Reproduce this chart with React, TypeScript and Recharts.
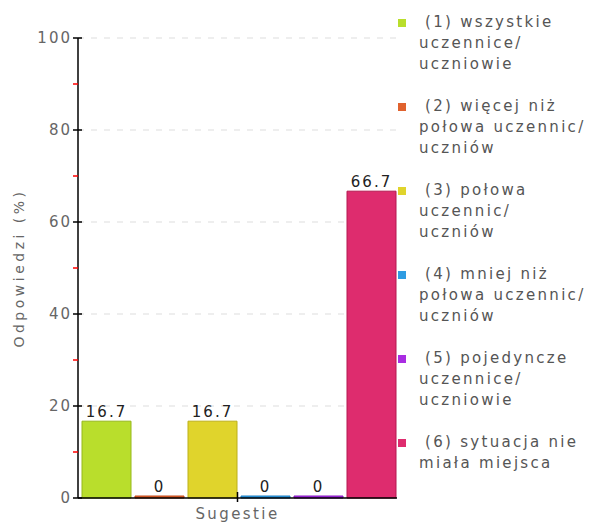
import React from 'react';
import { BarChart, Bar, XAxis, YAxis, CartesianGrid, LabelList } from 'recharts';

const categories: string[] = ['Sugestie'];
const seriesKeys: string[] = ['s1', 's2', 's3', 's4', 's5', 's6'];
const seriesLabels: string[] = [
  '(1) wszystkie\nuczennice/\nuczniowie',
  '(2) więcej niż\npołowa uczennic/\nuczniów',
  '(3) połowa\nuczennic/\nuczniów',
  '(4) mniej niż\npołowa uczennic/\nuczniów',
  '(5) pojedyncze\nuczennice/\nuczniowie',
  '(6) sytuacja nie\nmiała miejsca',
];
const seriesValues: number[] = [16.7, 0, 16.7, 0, 0, 66.7];
const fills: string[] = ['#b9de2c', '#e0622e', '#e0d42c', '#2e9ce2', '#a92ce2', '#de2c6e'];
const strokes: string[] = ['#96b81a', '#c04818', '#bcb018', '#1a7cc0', '#8418c0', '#b41850'];
const yMajorTicks: number[] = [0, 20, 40, 60, 80, 100];
const yMinorTicks: number[] = [10, 30, 50, 70, 90];

const data = categories.map((name) => {
  const row: Record<string, string | number> = { name };
  seriesKeys.forEach((k, i) => {
    row[k] = seriesValues[i];
  });
  return row;
});

const font = '"DejaVu Sans", Verdana, sans-serif';

const YTick = (props: any) => {
  const { x, y, payload } = props;
  const v = payload.value;
  if (yMinorTicks.includes(v)) {
    return <line x1={x - 5} x2={x} y1={y} y2={y} stroke="#ff0000" strokeWidth={1.5} />;
  }
  return (
    <g>
      <line x1={x - 5} x2={x + 4} y1={y} y2={y} stroke="#000" strokeWidth={1.5} />
      <text
        x={x - 6}
        y={y}
        dy="0.35em"
        textAnchor="end"
        fill="#666"
        fontSize={15}
        fontFamily={font}
        letterSpacing={2}
      >
        {v}
      </text>
    </g>
  );
};

const XTick = (props: any) => {
  const { x, y, payload } = props;
  return (
    <g>
      <line x1={x} x2={x} y1={y - 6} y2={y + 4} stroke="#000" strokeWidth={1.5} />
      <text
        x={x}
        y={y + 10}
        dy="0.71em"
        textAnchor="middle"
        fill="#666"
        fontSize={15}
        fontFamily={font}
        letterSpacing={2.4}
      >
        {payload.value}
      </text>
    </g>
  );
};

const App: React.FC = () => {
  return (
    <div style={{ position: 'absolute', left: 0, top: 0, width: 592, height: 524, background: '#fff' }}>
      <BarChart
        width={592}
        height={524}
        data={data}
        margin={{ top: 38, right: 195, bottom: 6, left: 18 }}
        barCategoryGap={4}
        barGap={4}
      >
        <CartesianGrid
          vertical={false}
          horizontalValues={[20, 40, 60, 80, 100]}
          stroke="#dddddd"
          strokeDasharray="6 7"
        />
        <XAxis
          dataKey="name"
          height={20}
          tickSize={0}
          tickMargin={0}
          tickLine={false}
          tick={<XTick />}
          axisLine={{ stroke: '#000', strokeWidth: 1.5 }}
        />
        <YAxis
          width={60}
          domain={[0, 100]}
          ticks={[...yMajorTicks, ...yMinorTicks].sort((a, b) => a - b)}
          interval={0}
          tickSize={0}
          tickMargin={0}
          tickLine={false}
          tick={<YTick />}
          axisLine={{ stroke: '#000', strokeWidth: 1.5 }}
          label={{
            value: 'Odpowiedzi (%)',
            angle: -90,
            position: 'insideLeft',
            offset: 1,
            style: { textAnchor: 'middle', fill: '#666', fontSize: 14, fontFamily: font, letterSpacing: 3.5 },
          }}
        />
        {seriesKeys.map((k, i) => (
          <Bar
            key={k}
            dataKey={k}
            fill={fills[i]}
            stroke={strokes[i]}
            strokeWidth={1}
            minPointSize={2}
            isAnimationActive={false}
          >
            <LabelList
              dataKey={k}
              position="top"
              offset={4}
              fill="#222"
              fontSize={15}
              fontFamily={font}
              letterSpacing={2}
            />
          </Bar>
        ))}
      </BarChart>
      <div
        style={{
          position: 'absolute',
          left: 398,
          top: 12,
          width: 194,
          fontFamily: font,
          fontSize: 15,
          lineHeight: '21px',
          color: '#555',
          letterSpacing: 2.3,
        }}
      >
        {seriesLabels.map((label, i) => (
          <div key={label} style={{ position: 'relative', marginBottom: 21, height: label.split('\n').length * 21 }}>
            <span
              style={{
                position: 'absolute',
                left: 0,
                top: 7,
                width: 8,
                height: 8,
                background: fills[i],
              }}
            />
            <div style={{ position: 'absolute', left: 21, top: 0, whiteSpace: 'pre' }}>
              {label.split('\n').map((line, j) => (
                <div key={j} style={{ textIndent: j === 0 ? 6 : 0 }}>
                  {line}
                </div>
              ))}
            </div>
          </div>
        ))}
      </div>
    </div>
  );
};

export default App;
